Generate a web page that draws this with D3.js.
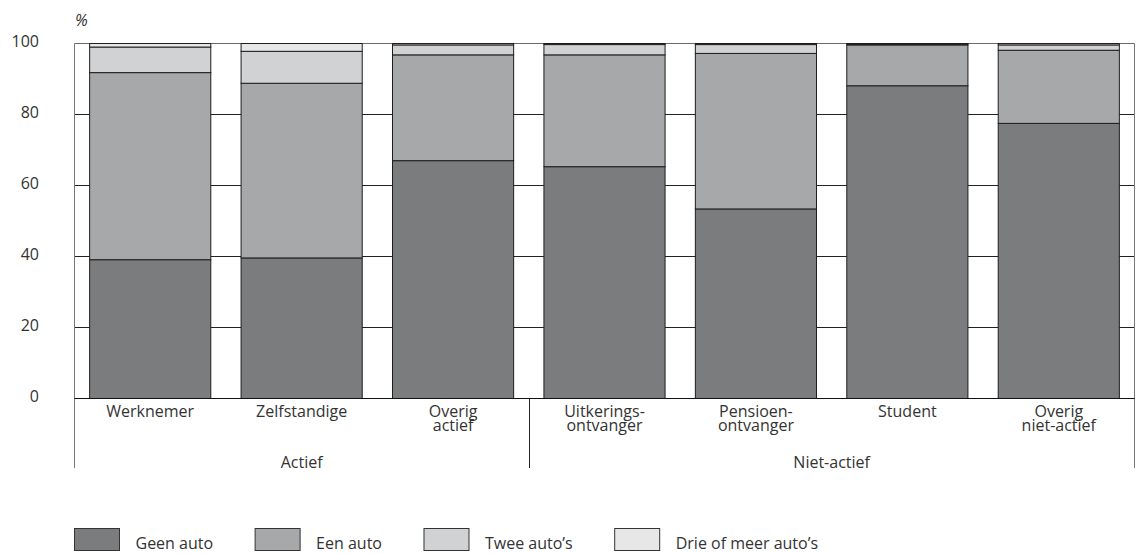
<!DOCTYPE html>
<html>
<head>
<meta charset="utf-8">
<script src="https://cdnjs.cloudflare.com/ajax/libs/d3/7.8.5/d3.min.js"></script>
<style>
  body { margin: 0; background: #fff; }
  svg text { font-family: 'Open Sans', 'Noto Sans', sans-serif; fill: #333; }
</style>
</head>
<body>
<script>
var categories = ['Werknemer', 'Zelfstandige', 'Overig actief', 'Uitkerings- ontvanger',
                  'Pensioen- ontvanger', 'Student', 'Overig niet-actief'];
var labelLines = [['Werknemer'], ['Zelfstandige'], ['Overig', 'actief'], ['Uitkerings-', 'ontvanger'],
                  ['Pensioen-', 'ontvanger'], ['Student'], ['Overig', 'niet-actief']];
var groups = [
  {name: 'Actief', from: 0, to: 2},
  {name: 'Niet-actief', from: 3, to: 6}
];
var seriesNames = ['Geen auto', 'Een auto', "Twee auto’s", "Drie of meer auto’s"];
var geenAuto   = [39.1, 39.6, 67.0, 65.3, 53.4, 88.1, 77.5];
var eenAuto    = [52.7, 49.2, 29.8, 31.5, 43.8, 11.5, 20.6];
var tweeAutos  = [ 7.2,  9.0,  2.8,  2.9,  2.5,  0.3,  1.5];
var drieAutos  = [ 1.0,  2.2,  0.4,  0.3,  0.3,  0.1,  0.4];
var yTicks = [0, 20, 40, 60, 80, 100];
var colors = ['#7b7c7e', '#a7a8aa', '#d1d2d4', '#e7e7e8'];

var width = 1136, height = 554;
var plotLeft = 74.5, plotRight = 1134.5, plotTop = 43.5, plotBottom = 398.5;

var svg = d3.select('body').append('svg')
    .attr('width', width)
    .attr('height', height);

var x = d3.scaleBand()
    .domain(categories)
    .range([plotLeft, plotRight])
    .paddingInner(0.2)
    .paddingOuter(0.1);

var y = d3.scaleLinear()
    .domain([0, 100])
    .range([plotBottom, plotTop]);

var keys = ['geen', 'een', 'twee', 'drie'];
var table = categories.map(function(c, i) {
  return {cat: c, geen: geenAuto[i], een: eenAuto[i], twee: tweeAutos[i], drie: drieAutos[i]};
});
var stack = d3.stack().keys(keys);
var color = d3.scaleOrdinal().domain(keys).range(colors);

// gridlines
svg.append('g')
  .selectAll('line')
  .data(yTicks)
  .enter().append('line')
    .attr('x1', plotLeft)
    .attr('x2', plotRight)
    .attr('y1', function(d) { return y(d); })
    .attr('y2', function(d) { return y(d); })
    .attr('stroke', function(d) { return d === 100 ? '#6a6a6a' : '#222'; })
    .attr('stroke-width', 1);

// vertical frame lines (left, group separator, right)
var sepX = (x(categories[2]) + x.bandwidth() + x(categories[3])) / 2;
svg.append('g')
  .selectAll('line')
  .data([plotLeft, Math.round(sepX) + 0.5, plotRight])
  .enter().append('line')
    .attr('x1', function(d) { return d; })
    .attr('x2', function(d) { return d; })
    .attr('y1', function(d, i) { return i === 1 ? plotBottom : plotTop; })
    .attr('y2', 468)
    .attr('stroke', function(d, i) { return i === 1 ? '#222' : '#777'; })
    .attr('stroke-width', 1);

// bars
var layer = svg.selectAll('.layer')
    .data(stack(table))
    .enter().append('g')
    .attr('class', 'layer')
    .attr('fill', function(d) { return color(d.key); });

layer.selectAll('rect')
    .data(function(d) { return d; })
    .enter().append('rect')
    .attr('x', function(d) { return x(d.data.cat); })
    .attr('y', function(d) { return y(d[1]); })
    .attr('width', x.bandwidth())
    .attr('height', function(d) { return y(d[0]) - y(d[1]); })
    .attr('stroke', '#1e1e1e')
    .attr('stroke-width', 1);

// baseline
svg.append('line')
  .attr('x1', plotLeft).attr('x2', plotRight)
  .attr('y1', plotBottom).attr('y2', plotBottom)
  .attr('stroke', '#111');

// y labels
svg.append('g')
  .selectAll('text')
  .data(yTicks)
  .enter().append('text')
    .attr('x', 39)
    .attr('y', function(d) { return y(d) + 3.5; })
    .attr('text-anchor', 'end')
    .attr('font-size', '16px')
    .text(function(d) { return d; });

svg.append('text')
  .attr('x', 75)
  .attr('y', 26)
  .attr('font-size', '16px')
  .attr('font-style', 'italic')
  .text('%');

// category labels
categories.forEach(function(c, i) {
  var t = svg.append('text')
    .attr('x', x(c) + x.bandwidth() / 2)
    .attr('y', 417)
    .attr('text-anchor', 'middle')
    .attr('font-size', '16px');
  labelLines[i].forEach(function(line, j) {
    t.append('tspan')
      .attr('x', x(c) + x.bandwidth() / 2)
      .attr('dy', j === 0 ? 0 : 14)
      .text(line);
  });
});

// group labels
groups.forEach(function(g) {
  var x0 = g.from === 0 ? plotLeft : sepX;
  var x1 = g.to === categories.length - 1 ? plotRight : sepX;
  svg.append('text')
    .attr('x', (x0 + x1) / 2)
    .attr('y', 468)
    .attr('text-anchor', 'middle')
    .attr('font-size', '16px')
    .text(g.name);
});

// legend
var lx = 74.5;
seriesNames.forEach(function(name, i) {
  svg.append('rect')
    .attr('x', lx)
    .attr('y', 528.5)
    .attr('width', 45)
    .attr('height', 22)
    .attr('fill', colors[i])
    .attr('stroke', '#333');
  var t = svg.append('text')
    .attr('x', lx + 61)
    .attr('y', 549)
    .attr('font-size', '16px')
    .text(name);
  lx = lx + 61 + t.node().getComputedTextLength() + 42;
});
</script>
</body>
</html>
